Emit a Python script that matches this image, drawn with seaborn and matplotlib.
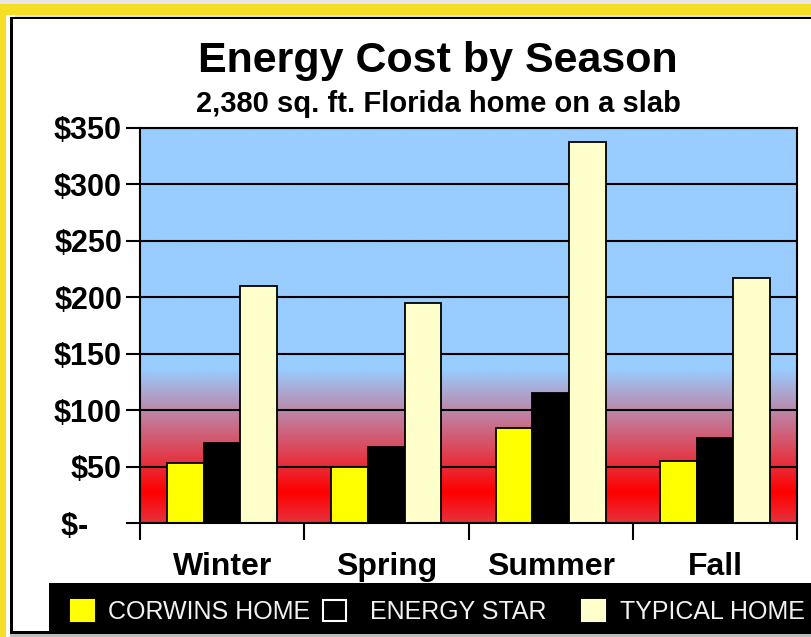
import matplotlib
matplotlib.use("Agg")
import matplotlib.pyplot as plt
import matplotlib.patches as mpatches
import numpy as np
import pandas as pd
import seaborn as sns

# chart data
seasons = ["Winter", "Spring", "Summer", "Fall"]
corwins_home = [53, 50, 84, 55]
energy_star = [71, 67, 115, 75]
typical_home = [210, 195, 338, 217]
series_names = ["CORWINS HOME", "ENERGY STAR", "TYPICAL HOME"]
y_ticks = [0, 50, 100, 150, 200, 250, 300, 350]
# accounting style zero label keeps trailing padding
y_tick_labels = ["$-    ", "$50", "$100", "$150", "$200", "$250", "$300", "$350"]
title = "Energy Cost by Season"
subtitle = "2,380 sq. ft. Florida home on a slab"

bar_colors = ["#FFFF00", "#000000", "#FFFFCC"]
legend_edges = ["#FFFF00", "#FFFFFF", "#FFFFCC"]

df = pd.DataFrame({
    "season": seasons * 3,
    "series": np.repeat(series_names, len(seasons)),
    "cost": corwins_home + energy_star + typical_home,
})

W, H = 811, 637
sns.set_theme(style="white")
plt.rcParams["font.family"] = ["Liberation Sans", "DejaVu Sans"]
plt.rcParams["text.color"] = "black"
plt.rcParams["xtick.labelcolor"] = "black"
plt.rcParams["ytick.labelcolor"] = "black"

fig = plt.figure(figsize=(W / 100, H / 100), dpi=100)
fig.patch.set_facecolor("white")


def fx(x):
    return x / W


def fy(y):
    return 1 - y / H


def box(x0, y0, x1, y1, color, **kw):
    """Rectangle in pixel coords (origin top-left)"""
    fig.patches.append(mpatches.Rectangle(
        (fx(x0), fy(y1)), fx(x1) - fx(x0), fy(y0) - fy(y1),
        transform=fig.transFigure, facecolor=color, edgecolor="none", **kw))


# outer frame
box(0, 0, W, 4, "#E6E6E6")
box(0, 4, W, 15, "#F5DE26")
box(0, 4, 6, H, "#F5DE26")
box(15, 15, W, 17, "#E0E0E0")
box(10, 17, W, 19, "black")
box(10, 17, 13, 634, "black")
box(10, 631, W, 634, "black")
box(10, 634, W, H, "#BDBDBD")

# plot area
ax = fig.add_axes([fx(140), fy(523), fx(797) - fx(140), fy(128) - fy(523)])

# blue -> red background fade
yy = np.linspace(0, 350, 500)
t = np.clip(np.abs(yy - 27) / 109, 0, 1)[:, None]
blue = np.array([153, 204, 255]) / 255
red = np.array([1.0, 0.0, 0.0])
grad = red * (1 - t) + blue * t
ax.imshow(grad[:, None, :], extent=[-0.5, 3.5, 0, 350], origin="lower",
          aspect="auto", zorder=0)

sns.barplot(data=df, x="season", y="cost", hue="series", palette=bar_colors,
            saturation=1, width=0.67, gap=0, errorbar=None, edgecolor="black",
            linewidth=1.3, legend=False, ax=ax, zorder=2)

ax.set_xlim(-0.5, 3.5)
ax.set_ylim(0, 350)
ax.set_xlabel("")
ax.set_ylabel("")

ax.set_axisbelow(True)
ax.yaxis.grid(True, color="black", linewidth=1.5)
ax.xaxis.grid(False)
for s in ax.spines.values():
    s.set_color("black")
    s.set_linewidth(1.5)

ax.set_yticks(y_ticks)
ax.set_yticklabels(y_tick_labels, fontweight="bold", fontsize=22)
ax.set_xticks(range(len(seasons)))
ax.set_xticklabels(seasons, fontweight="bold", fontsize=23)
ax.set_xticks(np.arange(-0.5, len(seasons), 1), minor=True)
ax.tick_params(axis="y", which="major", left=True, direction="out", length=10,
               width=1.5, color="black", pad=3)
ax.tick_params(axis="x", which="minor", bottom=True, direction="out", length=12,
               width=1.5, color="black")
ax.tick_params(axis="x", which="major", bottom=True, length=0, pad=21)

# legend band, one entry per slot so the uneven spacing can be matched
box(49, 583, W, 632, "black")
slots = [(71, 0.6), (323, 1.0), (582, 0.6)]
for (x0, tpad), name, c, e in zip(slots, series_names, bar_colors, legend_edges):
    h = mpatches.Patch(facecolor=c, edgecolor=e, linewidth=1.5)
    fig.legend([h], [name], loc="center left", bbox_to_anchor=(fx(x0), fy(612)),
               frameon=False, fontsize=18, handlelength=0.9, handleheight=0.95,
               handletextpad=tpad, labelcolor="#F2F2F2", borderaxespad=0,
               borderpad=0)

fig.text(fx(438), fy(72), title, ha="center", va="baseline", fontsize=31,
         fontweight="bold")
fig.text(fx(438), fy(112), subtitle, ha="center", va="baseline", fontsize=21,
         fontweight="bold")

fig.savefig("out.png", dpi=100)
